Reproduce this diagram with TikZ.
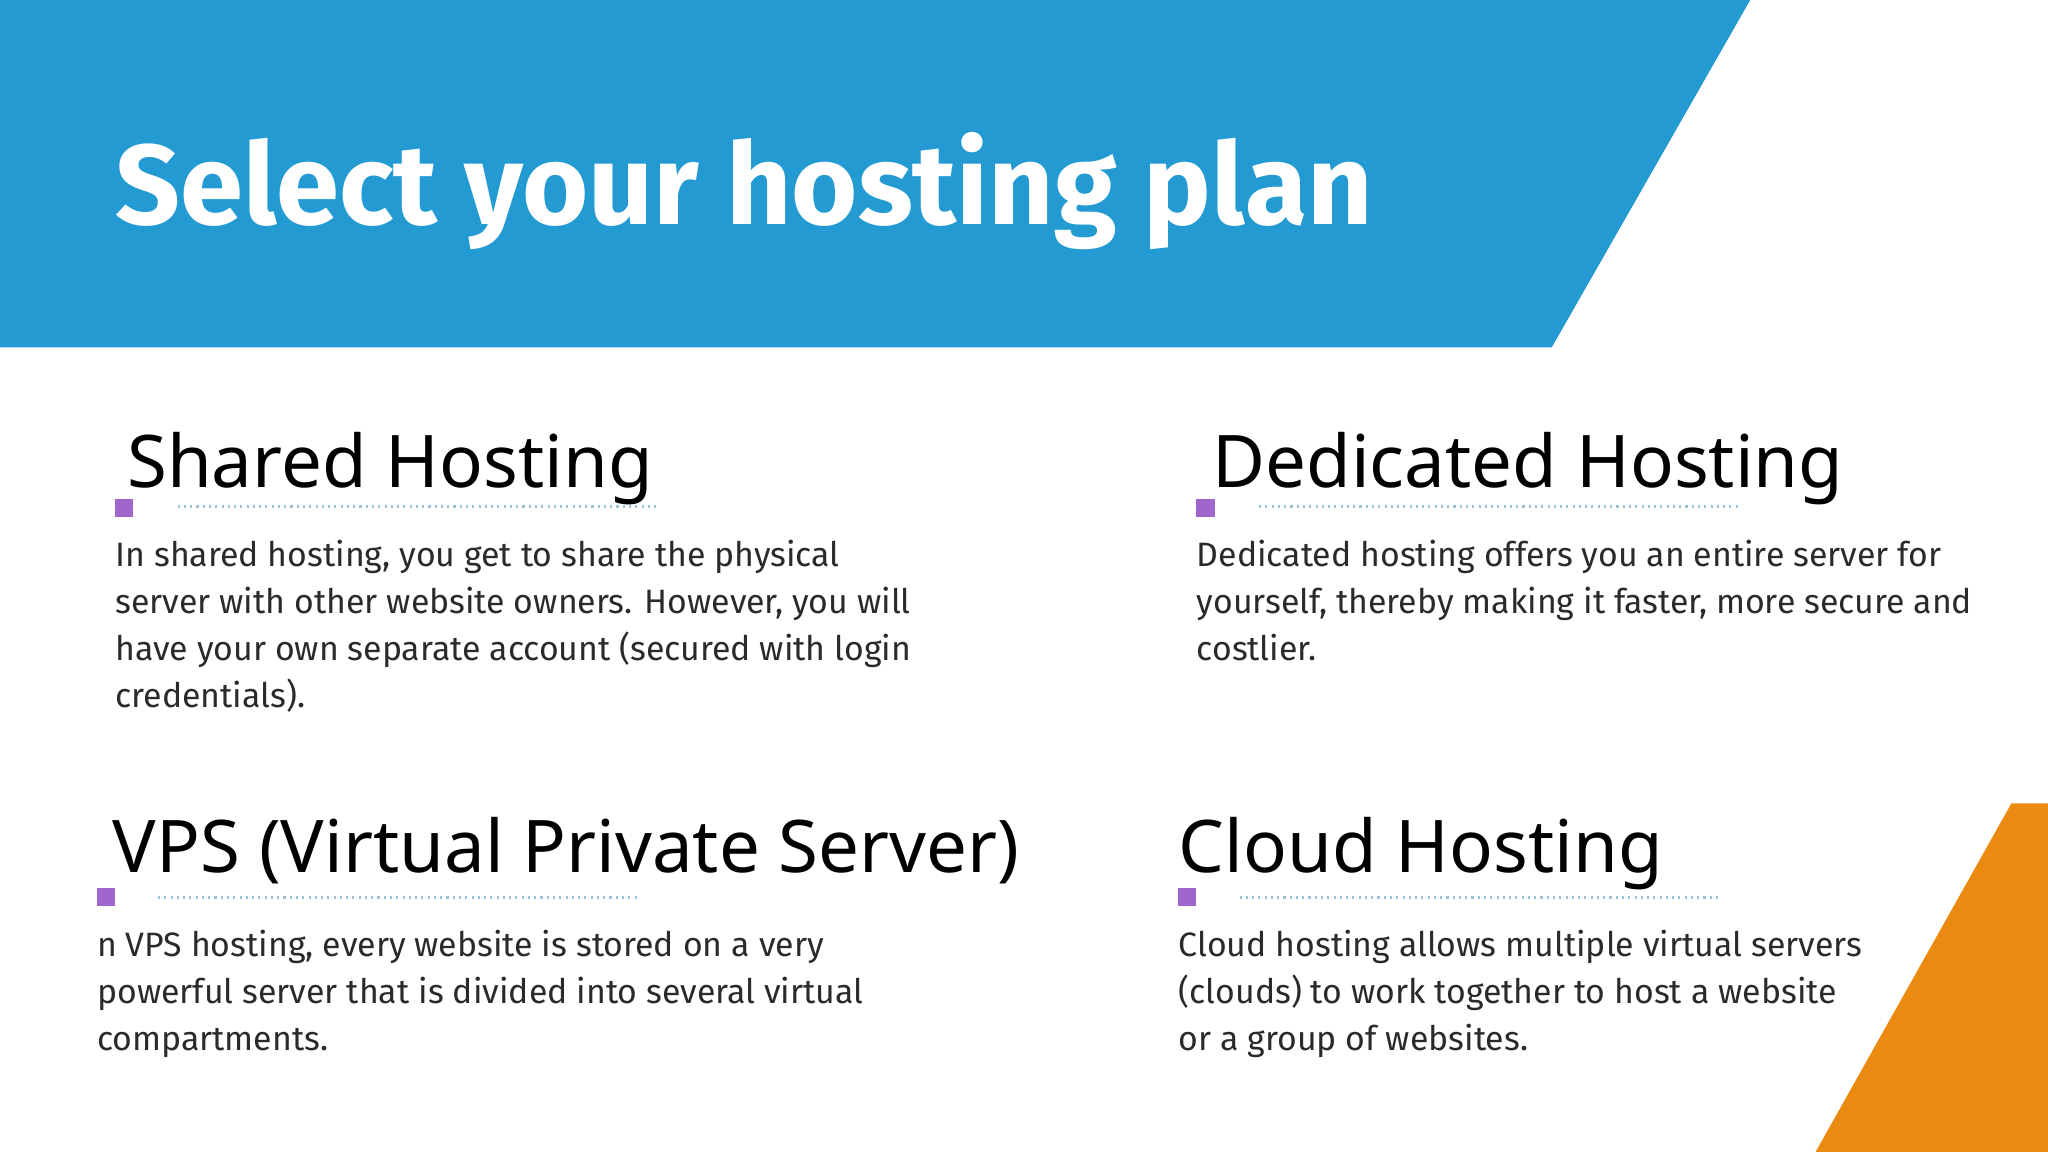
\documentclass[tikz,border=0pt]{standalone}
\usepackage{fontspec}
\setmainfont{Fira Sans}
\newfontfamily\headfont{Noto Sans}
\definecolor{bluebg}{HTML}{239BD2}
\definecolor{orangebg}{HTML}{EB8A10}
\definecolor{purp}{HTML}{A066CC}
\definecolor{dotc}{HTML}{9CC3DE}
\definecolor{bodyc}{HTML}{2A2A2A}
\tikzset{
 head/.style={anchor=base west,inner sep=0pt,font=\headfont\fontsize{27.8}{34}\selectfont},
 body/.style={anchor=north west,inner sep=0pt,align=left,text=bodyc,font=\fontsize{12.95}{18}\selectfont},
 sq/.style={fill=purp},
 dots/.style={dotc,line width=1.2pt,dash pattern=on 0.8pt off 1.6pt},
}
\begin{document}
\begin{tikzpicture}[x=0.5pt,y=-0.5pt]
\useasboundingbox (0,0) rectangle (1568,882);
\fill[white] (0,0) rectangle (1568,882);
\fill[bluebg] (0,0) -- (1340,0) -- (1188,266) -- (0,266) -- cycle;
\fill[orangebg] (1540,615) -- (1568,615) -- (1568,882) -- (1390,882) -- cycle;
\node[anchor=base west,inner sep=0pt,text=white,font=\fontsize{43.5}{50}\selectfont\bfseries] (title) at (88,172) {Select your hosting plan};
% Shared
\node[head] (h1) at (97,373) {Shared Hosting};
\fill[sq] (88,382) rectangle (102,396);
\draw[dots] (136,388) -- (505,388);
\node[body] (b1) at (88,408) {\strut In shared hosting, you get to share the physical\\server with other website owners. However, you will\\have your own separate account (secured with login\\credentials).};
% Dedicated
\node[head] (h2) at (928,373) {Dedicated Hosting};
\fill[sq] (916,382) rectangle (930,396);
\draw[dots] (964,388) -- (1333,388);
\node[body] (b2) at (916,408) {\strut Dedicated hosting offers you an entire server for\\yourself, thereby making it faster, more secure and\\costlier.};
% VPS
\node[head] (h3) at (86,668) {VPS (Virtual Private Server)};
\fill[sq] (74,680) rectangle (88,694);
\draw[dots] (121,687) -- (490,687);
\node[body] (b3) at (74,707) {\strut n VPS hosting, every website is stored on a very\\powerful server that is divided into several virtual\\compartments.};
% Cloud
\node[head] (h4) at (902,668) {Cloud Hosting};
\fill[sq] (902,680) rectangle (916,694);
\draw[dots] (949,687) -- (1318,687);
\node[body] (b4) at (902,707) {\strut Cloud hosting allows multiple virtual servers\\(clouds) to work together to host a website\\or a group of websites.};
\end{tikzpicture}
\end{document}
